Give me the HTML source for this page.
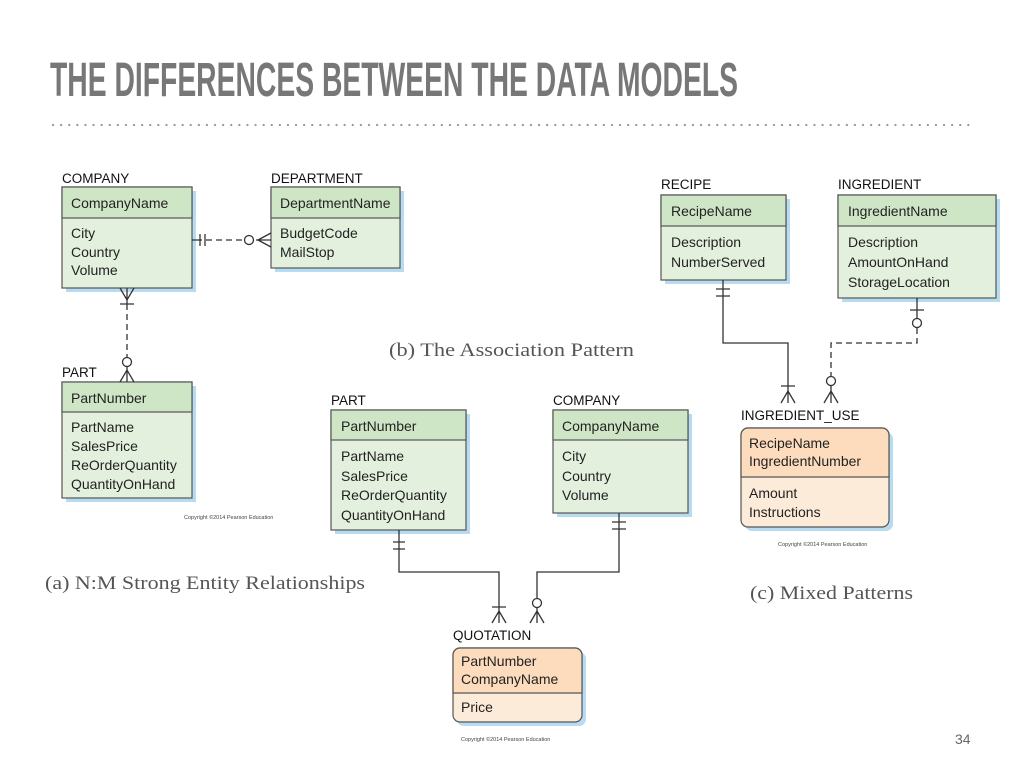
<!DOCTYPE html>
<html><head><meta charset="utf-8"><style>
html,body{margin:0;padding:0;background:#fff;}
svg{display:block;}
.t{font-family:"Liberation Sans",sans-serif;font-size:14px;fill:#222;}
.h{font-family:"Liberation Sans",sans-serif;font-size:13.5px;fill:#111;}
.cap{font-family:"Liberation Serif",serif;font-size:19px;fill:#555;}
.cp{font-family:"Liberation Sans",sans-serif;font-size:5.5px;fill:#444;}
.ln{stroke:#333;stroke-width:1.3;fill:none;}
.d{stroke-dasharray:6,4;}
</style></head><body>
<svg width="1024" height="768" viewBox="0 0 1024 768" xmlns="http://www.w3.org/2000/svg">
<text x="50" y="96" font-family="'Liberation Sans',sans-serif" font-weight="bold" font-size="48" fill="#777" textLength="688" lengthAdjust="spacingAndGlyphs">THE DIFFERENCES BETWEEN THE DATA MODELS</text>
<line x1="53" y1="125" x2="972" y2="125" stroke="#999" stroke-width="2.2" stroke-dasharray="0.1,8" stroke-linecap="round"/>

<g stroke="#555" stroke-width="1.2">
<rect x="66" y="191" width="130" height="101" fill="#b7dcf2" stroke="none"/>
<rect x="62" y="187" width="130" height="101" fill="#e3f0dd"/>
<rect x="62" y="187" width="130" height="31" fill="#cfe6c6"/>
<rect x="275" y="191" width="129" height="81" fill="#b7dcf2" stroke="none"/>
<rect x="271" y="187" width="129" height="81" fill="#e3f0dd"/>
<rect x="271" y="187" width="129" height="31" fill="#cfe6c6"/>
<rect x="66" y="386" width="130" height="116" fill="#b7dcf2" stroke="none"/>
<rect x="62" y="382" width="130" height="116" fill="#e3f0dd"/>
<rect x="62" y="382" width="130" height="30" fill="#cfe6c6"/>
<rect x="335" y="414" width="135" height="120" fill="#b7dcf2" stroke="none"/>
<rect x="331" y="410" width="135" height="120" fill="#e3f0dd"/>
<rect x="331" y="410" width="135" height="30" fill="#cfe6c6"/>
<rect x="557" y="414" width="135" height="103" fill="#b7dcf2" stroke="none"/>
<rect x="553" y="410" width="135" height="103" fill="#e3f0dd"/>
<rect x="553" y="410" width="135" height="30" fill="#cfe6c6"/>
<rect x="665" y="199" width="125" height="85" fill="#b7dcf2" stroke="none"/>
<rect x="661" y="195" width="125" height="85" fill="#e3f0dd"/>
<rect x="661" y="195" width="125" height="31" fill="#cfe6c6"/>
<rect x="842" y="199" width="158" height="103" fill="#b7dcf2" stroke="none"/>
<rect x="838" y="195" width="158" height="103" fill="#e3f0dd"/>
<rect x="838" y="195" width="158" height="31" fill="#cfe6c6"/>
<rect x="457" y="652" width="129" height="74" rx="7" fill="#b7dcf2" stroke="none"/>
<rect x="453" y="648" width="129" height="74" rx="7" fill="#fdebd9"/>
<path d="M453,693 V655 a7,7 0 0 1 7,-7 H575 a7,7 0 0 1 7,7 V693 Z" fill="#fcdcbd"/>
<rect x="745" y="432" width="148" height="99" rx="7" fill="#b7dcf2" stroke="none"/>
<rect x="741" y="428" width="148" height="99" rx="7" fill="#fdebd9"/>
<path d="M741,477 V435 a7,7 0 0 1 7,-7 H882 a7,7 0 0 1 7,7 V477 Z" fill="#fcdcbd"/>
</g>

<text class="h" x="62" y="183">COMPANY</text>
<text class="h" x="271" y="183">DEPARTMENT</text>
<text class="h" x="62" y="377">PART</text>
<text class="h" x="331" y="405">PART</text>
<text class="h" x="553" y="405">COMPANY</text>
<text class="h" x="661" y="189">RECIPE</text>
<text class="h" x="838" y="189">INGREDIENT</text>
<text class="h" x="453" y="640">QUOTATION</text>
<text class="h" x="741" y="420">INGREDIENT_USE</text>

<text class="t" x="71" y="208">CompanyName</text>
<text class="t" x="71" y="238">City</text><text class="t" x="71" y="257">Country</text><text class="t" x="71" y="275">Volume</text>
<text class="t" x="280" y="208">DepartmentName</text>
<text class="t" x="280" y="238">BudgetCode</text><text class="t" x="280" y="257">MailStop</text>
<text class="t" x="71" y="403">PartNumber</text>
<text class="t" x="71" y="432">PartName</text><text class="t" x="71" y="451">SalesPrice</text><text class="t" x="71" y="470">ReOrderQuantity</text><text class="t" x="71" y="489">QuantityOnHand</text>
<text class="t" x="341" y="431">PartNumber</text>
<text class="t" x="341" y="461">PartName</text><text class="t" x="341" y="481">SalesPrice</text><text class="t" x="341" y="500">ReOrderQuantity</text><text class="t" x="341" y="520">QuantityOnHand</text>
<text class="t" x="562" y="431">CompanyName</text>
<text class="t" x="562" y="461">City</text><text class="t" x="562" y="481">Country</text><text class="t" x="562" y="500">Volume</text>
<text class="t" x="671" y="216">RecipeName</text>
<text class="t" x="671" y="247">Description</text><text class="t" x="671" y="267">NumberServed</text>
<text class="t" x="848" y="216">IngredientName</text>
<text class="t" x="848" y="247">Description</text><text class="t" x="848" y="267">AmountOnHand</text><text class="t" x="848" y="287">StorageLocation</text>
<text class="t" x="461" y="666">PartNumber</text><text class="t" x="461" y="684">CompanyName</text>
<text class="t" x="461" y="712">Price</text>
<text class="t" x="749" y="448">RecipeName</text><text class="t" x="749" y="466">IngredientNumber</text>
<text class="t" x="749" y="498">Amount</text><text class="t" x="749" y="517">Instructions</text>

<path class="ln d" d="M196,240 H258"/>
<path class="ln" d="M192,240 H196 M200,234 V246 M205,234 V246"/>
<circle cx="249" cy="240" r="4.5" fill="#fff" stroke="#333" stroke-width="1.3"/>
<path class="ln" d="M258,240 L271,233 M258,240 L271,247 M258,240 H271"/>
<path class="ln d" d="M127,304 V358"/>
<path class="ln" d="M127,288 V304 M120,288 L127,300 L134,288 M120,304 H134"/>
<circle cx="127" cy="362" r="4.5" fill="#fff" stroke="#333" stroke-width="1.3"/>
<path class="ln" d="M127,367 V382 M120,382 L127,370 L134,382"/>

<path class="ln" d="M399,530 V572 H499 V623 M393,542 H405 M393,549 H405 M492,607 H506 M492,623 L499,611 L506,623"/>
<path class="ln" d="M619,513 V572 H537 V598 M537,608 V623 M612,522 H626 M612,529 H626 M530,623 L537,611 L544,623"/>
<circle cx="537" cy="603" r="4.5" fill="#fff" stroke="#333" stroke-width="1.3"/>

<path class="ln" d="M723,280 V343 H788 V403 M716,289 H730 M716,296 H730 M781,386 H795 M781,403 L788,391 L795,403"/>
<path class="ln" d="M917,298 V318 M910,310 H924"/>
<circle cx="917" cy="323" r="4.5" fill="#fff" stroke="#333" stroke-width="1.3"/>
<path class="ln d" d="M917,328 V343 H831 V376"/>
<circle cx="831" cy="381" r="4.5" fill="#fff" stroke="#333" stroke-width="1.3"/>
<path class="ln" d="M831,386 V403 M824,403 L831,391 L838,403"/>

<text class="cap" x="389" y="356" textLength="245" lengthAdjust="spacingAndGlyphs">(b) The Association Pattern</text>
<text class="cap" x="45" y="589" textLength="320" lengthAdjust="spacingAndGlyphs">(a) N:M Strong Entity Relationships</text>
<text class="cap" x="750" y="599" textLength="163" lengthAdjust="spacingAndGlyphs">(c) Mixed Patterns</text>
<text class="cp" x="184" y="519">Copyright ©2014 Pearson Education</text>
<text class="cp" x="461" y="741">Copyright ©2014 Pearson Education</text>
<text class="cp" x="778" y="546">Copyright ©2014 Pearson Education</text>
<text x="955" y="744" font-family="'Liberation Sans',sans-serif" font-size="14" fill="#666">34</text>
</svg>
</body></html>
